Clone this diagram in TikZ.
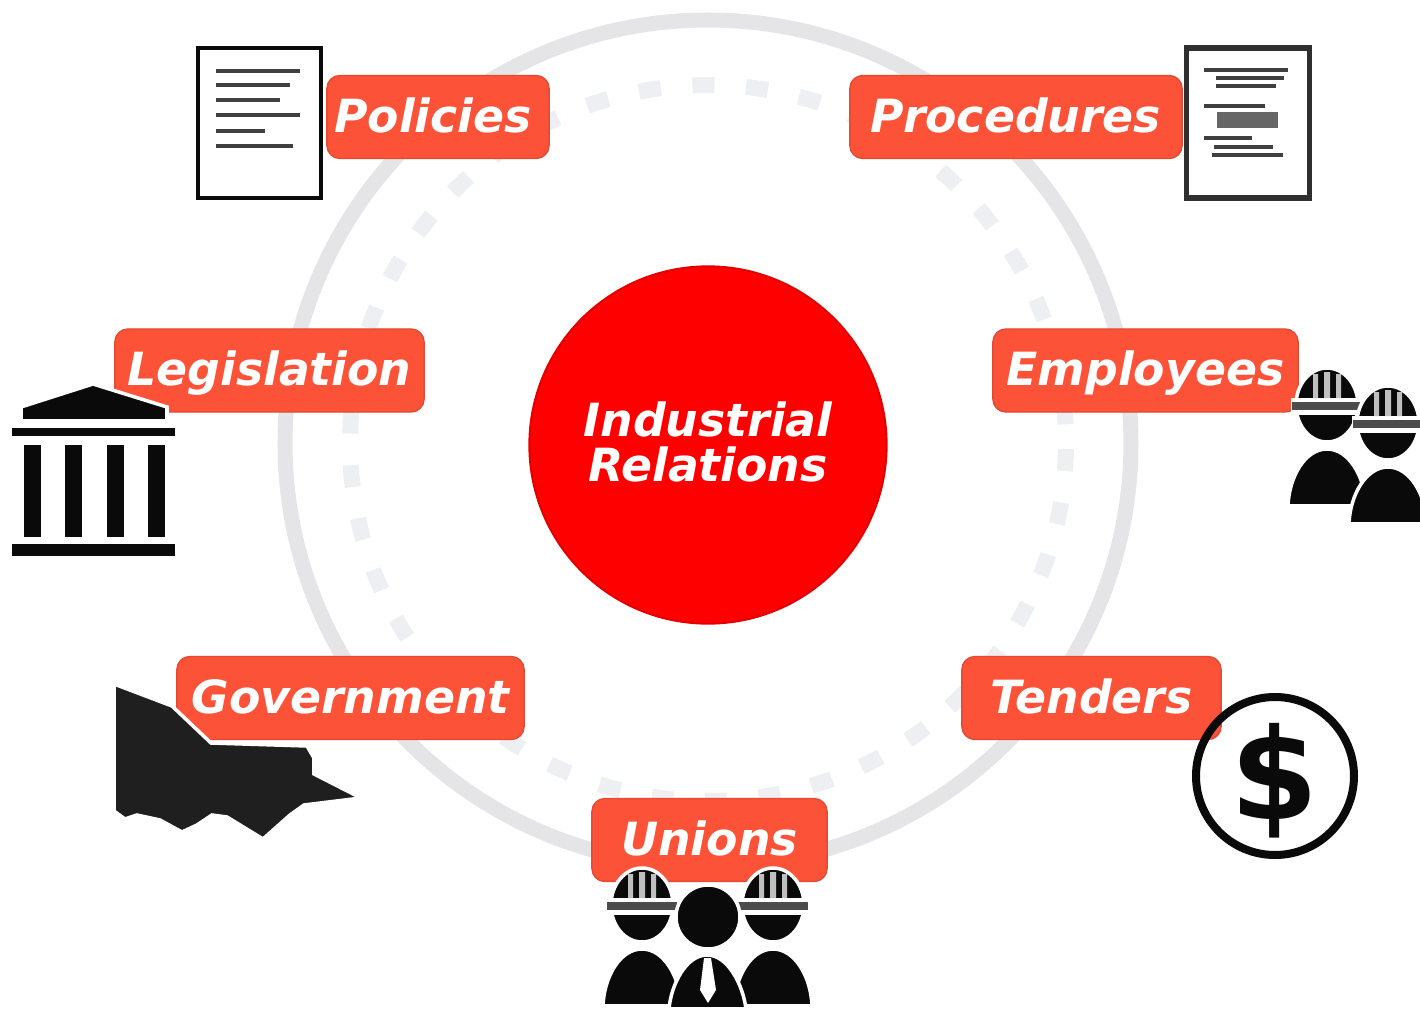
\documentclass[tikz,border=0pt]{standalone}
\usepackage{fontspec}
\setmainfont{DejaVu Sans}
\definecolor{ringgray}{HTML}{E5E5E7}
\definecolor{dotgray}{HTML}{EDEFF2}
\definecolor{tagred}{HTML}{FB5238}
\definecolor{iconblack}{HTML}{0A0A0A}
\tikzset{
  tag/.style={fill=tagred,draw=tagred!90!black,line width=0.4pt,rounded corners=0.13cm,text=white,
    minimum height=0.83cm,inner sep=0pt,text height=0.35cm,text depth=0.05cm,
    font=\fontsize{13}{13}\selectfont\bfseries\itshape},
  icon/.style={fill=iconblack,draw=white,line width=1pt},
  docline/.style={draw=black!75,line width=1pt}
}
\newcommand{\workerhead}[1]{
  \begin{scope}[shift={(#1)}]
    \fill[icon] (0,0) ellipse (31 and 37);
    \fill[white] (-36,-7) rectangle (36,10);
    \fill[black!70] (-35,-3) rectangle (35,5);
    \fill[white!75!black] (-14,-31) rectangle (-9,-7) (-3,-33) rectangle (3,-7) (9,-31) rectangle (14,-7);
    \fill[icon] (-39,101) .. controls (-38,72) and (-22,44) .. (0,44) .. controls (22,44) and (38,72) .. (39,101) -- cycle;
  \end{scope}
}
\begin{document}
\begin{tikzpicture}[x=0.01cm,y=-0.01cm]
\useasboundingbox (0,0) rectangle (1420,1009);
% rings
\draw[ringgray,line width=0.15cm] (708,443) circle (423);
\draw[dotgray,line width=0.16cm,dash pattern=on 0.22cm off 0.317cm,dash phase=0.477cm] (708,443) circle (358);
\node[circle,fill=red,draw=red!90!black,line width=0.6pt,inner sep=0pt,minimum size=3.57cm,text=white,align=center,
  font=\fontsize{13}{12.8}\selectfont\bfseries\itshape] (industrial) at (708,445) {Industrial\\Relations\rule[-0.07cm]{0pt}{0pt}};
% labels
\node[tag,minimum width=2.22cm] (policies) at (438,117) {\kern-0.1cm Policies};
\node[tag,minimum width=3.32cm] (procedures) at (1016,117) {Procedures};
\node[tag,minimum width=3.09cm] (legislation) at (269.5,370.5) {Legislation};
\node[tag,minimum width=3.05cm] (employees) at (1145.5,370.5) {Employees};
\node[tag,minimum width=3.47cm] (government) at (350.5,698) {Government};
\node[tag,minimum width=2.59cm] (tenders) at (1091.5,698) {Tenders};
\node[tag,minimum width=2.35cm] (unions) at (709.5,840) {Unions};
% policies document
\draw[iconblack,fill=white,line width=0.045cm] (198,48) rectangle (321,198);
\foreach \y/\e in {71/300,85/290,100/280,115/300,131/265,146/293}
  \draw[docline] (216,\y) -- (\e,\y);
% procedures document
\draw[iconblack!85,fill=white,line width=0.05cm] (1186,48) rectangle (1309,198);
\foreach \y/\s/\e in {70/1204/1288,78/1216/1284,86/1216/1276,106/1204/1265,138/1204/1252,147/1214/1273,155/1212/1283}
  \draw[docline] (\s,\y) -- (\e,\y);
\fill[black!60] (1217,112) rectangle (1278,128);
% legislation building
\fill[icon] (21,421) -- (21,407) -- (93,384) -- (167,407) -- (167,421) -- cycle;
\fill[iconblack] (12,428) rectangle (175,436);
\foreach \x in {24,65,107,148}
  \fill[iconblack] (\x,445) rectangle (\x+17,537);
\fill[iconblack] (12,544) rectangle (175,556);
% government map
\fill[icon,fill=black!88] (114,684) -- (172,706) -- (211,743) -- (307,746) -- (314,758) -- (314,774) -- (361,798) -- (304,805)
  -- (290,815) -- (263,839) -- (227,817) -- (212,815) -- (197,825) -- (182,832) -- (160,820) -- (137,815) -- (125,819) -- (114,811) -- cycle;
% tenders coin
\draw[iconblack,line width=0.08cm] (1275,776) circle (79);
\node[inner sep=0pt,text=iconblack,font=\fontsize{36}{36}\selectfont\bfseries] (dollar) at (1275,781) {\$};
% workers
\workerhead{1327,405}
\begin{scope}
\clip (0,0) rectangle (1420,1009);
\workerhead{1388,423}
\end{scope}
\workerhead{642,905}
\workerhead{773,905}
\fill[icon] (708,917) circle (32);
\fill[icon] (669,1009) .. controls (671,985) and (686,955) .. (707,955) .. controls (728,955) and (743,985) .. (746,1009) -- cycle;
\fill[white] (704,958) -- (711,958) -- (716,990) -- (708,1003) -- (700,990) -- cycle;
\end{tikzpicture}
\end{document}
